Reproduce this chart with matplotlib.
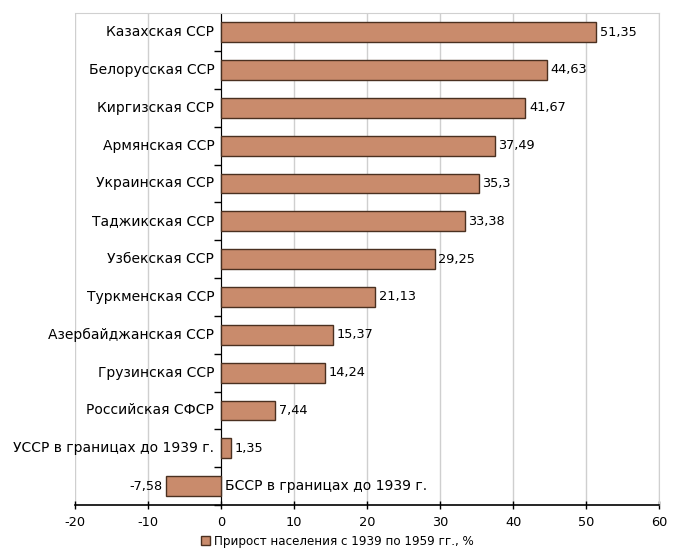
import matplotlib.pyplot as plt
import numpy as np

plt.rcParams['font.family'] = ['DejaVu Sans']

regions = ['Казахская ССР', 'Белорусская ССР', 'Киргизская ССР', 'Армянская ССР',
           'Украинская ССР', 'Таджикская ССР', 'Узбекская ССР', 'Туркменская ССР',
           'Азербайджанская ССР', 'Грузинская ССР', 'Российская СФСР',
           'УССР в границах до 1939 г.', 'БССР в границах до 1939 г.']
growth = [51.35, 44.63, 41.67, 37.49, 35.3, 33.38, 29.25, 21.13, 15.37, 14.24, 7.44, 1.35, -7.58]
value_labels = ['51,35', '44,63', '41,67', '37,49', '35,3', '33,38', '29,25', '21,13',
                '15,37', '14,24', '7,44', '1,35', '-7,58']
x_ticks = [-20, -10, 0, 10, 20, 30, 40, 50, 60]

fs = 9.3
fs_cat = 10

fig = plt.figure(figsize=(6.74, 5.52), dpi=100)
ax = fig.add_axes([0.111, 0.085, 0.867, 0.891])

y = np.arange(len(regions))[::-1]
ax.barh(y, growth, height=0.52, color='#c98b6c', edgecolor='#4a3020',
        linewidth=1.0, zorder=3, label='Прирост населения с 1939 по 1959 гг., %')

ax.set_xlim(-20, 60)
ax.set_ylim(-0.5, len(regions) - 0.5)
ax.set_xticks(x_ticks)
ax.set_xticklabels([str(t) for t in x_ticks], fontsize=fs)
ax.tick_params(axis='x', direction='inout', length=6, width=1, color='black', pad=5)
ax.grid(axis='x', color='#cfcfcf', linewidth=1, zorder=0)

# y-axis drawn at zero, ticks between categories
ax.spines['left'].set_position(('data', 0))
ax.spines['left'].set_color('black')
ax.set_yticks(np.arange(len(regions)) - 0.5)
ax.set_yticklabels([])
ax.tick_params(axis='y', direction='out', length=5, width=1)
for s in ['top', 'right']:
    ax.spines[s].set_color('#d0d0d0')
ax.spines['bottom'].set_color('black')
ax.spines['bottom'].set_linewidth(1.2)

for yi, name, v, lab in zip(y, regions, growth, value_labels):
    if v >= 0:
        ax.text(-0.9, yi, name, ha='right', va='center', fontsize=fs_cat, zorder=4)
        ax.text(v + 0.5, yi, lab, ha='left', va='center', fontsize=fs, zorder=4)
    else:
        ax.text(0.6, yi, name, ha='left', va='center', fontsize=fs_cat, zorder=4)
        ax.text(v - 0.4, yi, lab, ha='right', va='center', fontsize=fs, zorder=4)

fig.legend(loc='lower center', bbox_to_anchor=(0.5, -0.012), frameon=False, fontsize=8.6,
           handlelength=0.8, handleheight=0.8, handletextpad=0.3)

fig.savefig('out.png', dpi=100)
